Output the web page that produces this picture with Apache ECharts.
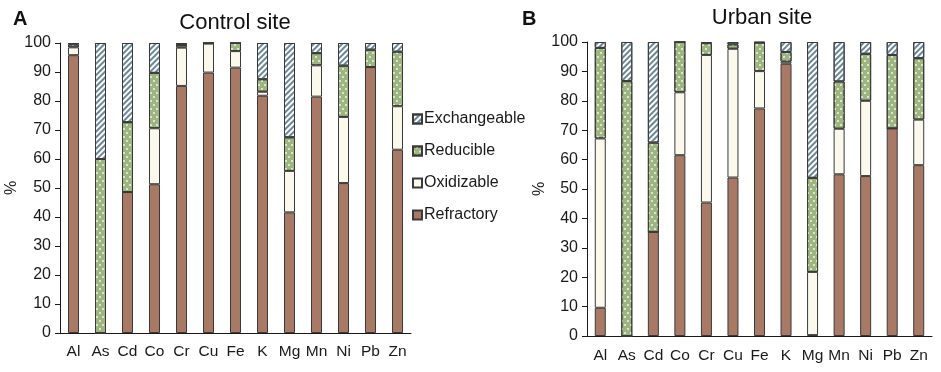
<!DOCTYPE html>
<html>
<head>
<meta charset="utf-8">
<script src="https://cdn.jsdelivr.net/npm/echarts@6/dist/echarts.min.js"></script>
<style>html,body{margin:0;padding:0;background:#fff;}#c{width:941px;height:372px;}</style>
</head>
<body>
<div id="c"></div>
<script>
const categories = ['Al','As','Cd','Co','Cr','Cu','Fe','K','Mg','Mn','Ni','Pb','Zn'];
const yTicks = [0,10,20,30,40,50,60,70,80,90,100];

// Control site (A)
const controlRefractory   = [95.8, 0, 48.6, 51.3, 85.2, 89.8, 91.5, 81.8, 41.6, 81.5, 51.7, 91.7, 63.2];
const controlOxidizable   = [2.7, 0, 0, 19.3, 13.2, 10.0, 5.7, 1.4, 14.3, 10.8, 22.8, 0, 15.0];
const controlReducible    = [1.0, 60.0, 24.1, 19.1, 0.9, 0.2, 2.8, 4.3, 11.6, 4.2, 17.7, 6.0, 18.8];
const controlExchangeable = [0.5, 40.0, 27.3, 10.3, 0.7, 0, 0, 12.5, 32.5, 3.5, 7.8, 2.3, 3.0];

// Urban site (B)
const urbanRefractory   = [9.6, 0, 35.4, 61.5, 45.4, 53.9, 77.4, 92.6, 0.3, 55.0, 54.4, 70.6, 58.1];
const urbanOxidizable   = [57.6, 0, 0, 21.4, 50.2, 43.8, 12.7, 0.7, 21.5, 15.5, 25.6, 0, 15.5];
const urbanReducible    = [30.8, 86.7, 30.4, 17.1, 4.0, 1.5, 9.7, 3.3, 32.0, 16.1, 16.0, 25.0, 20.9];
const urbanExchangeable = [2.0, 13.3, 34.2, 0, 0.4, 0.8, 0.2, 3.4, 46.2, 13.4, 4.0, 4.4, 5.5];

const FONT = '"Liberation Sans", Arial, sans-serif';
const BORDER = '#3a3a3a';

const styles = {
  Refractory: { color: '#a87965', borderColor: BORDER, borderWidth: 1 },
  Oxidizable: { color: '#fbf8ec', borderColor: BORDER, borderWidth: 1 },
  Reducible: {
    color: '#9db57f', borderColor: BORDER, borderWidth: 1,
    decal: { symbol: 'circle', symbolSize: 1, color: 'rgba(255,255,255,0.85)',
             dashArrayX: [[1.6, 3.4], [0, 2.5, 1.6, 0.9]], dashArrayY: [1.6, 1.4] }
  },
  Exchangeable: {
    color: '#ffffff', borderColor: BORDER, borderWidth: 1,
    decal: { symbol: 'rect', symbolSize: 1, color: '#6a8797',
             dashArrayX: [1, 0], dashArrayY: [1.6, 1.4], rotation: -Math.PI / 4 }
  }
};

function mk(name, data, idx) {
  return {
    name: name, type: 'bar', stack: 's' + idx,
    xAxisIndex: idx, yAxisIndex: idx,
    barWidth: 11, data: data,
    itemStyle: styles[name],
    emphasis: { disabled: true }
  };
}

const chart = echarts.init(document.getElementById('c'), null, { renderer: 'canvas' });
chart.setOption({
  animation: false,
  backgroundColor: '#ffffff',
  title: [
    { text: 'Control site', left: 230, top: 7, textAlign: 'center',
      textStyle: { fontSize: 22, fontWeight: 'normal', color: '#111', fontFamily: FONT } },
    { text: 'Urban site', left: 757, top: 2, textAlign: 'center',
      textStyle: { fontSize: 22, fontWeight: 'normal', color: '#111', fontFamily: FONT } },
    { text: 'A', left: 8, top: 4,
      textStyle: { fontSize: 20, fontWeight: 'bold', color: '#111', fontFamily: FONT } },
    { text: 'B', left: 517, top: 4,
      textStyle: { fontSize: 20, fontWeight: 'bold', color: '#111', fontFamily: FONT } }
  ],
  legend: {
    orient: 'vertical', left: 407, top: 106, itemGap: 16,
    itemWidth: 9, itemHeight: 9, icon: 'rect',
    data: ['Exchangeable', 'Reducible', 'Oxidizable', 'Refractory'],
    textStyle: { fontSize: 16, color: '#1a1a1a', fontFamily: FONT, padding: [0, 0, 0, -3] },
    selectedMode: false
  },
  grid: [
    { left: 60, top: 43, width: 351, height: 290 },
    { left: 587, top: 42, width: 345, height: 294 }
  ],
  xAxis: [0, 1].map(i => ({
    type: 'category', gridIndex: i, data: categories,
    axisLine: { lineStyle: { color: '#1a1a1a', width: 1 } },
    axisTick: { show: false },
    axisLabel: { margin: i === 0 ? 11 : 12, interval: 0, color: '#1a1a1a', fontSize: 15.5, fontFamily: FONT }
  })),
  yAxis: [0, 1].map(i => ({
    type: 'value', gridIndex: i, min: 0, max: 100, interval: 10,
    name: '%', nameLocation: 'middle', nameGap: i === 0 ? 40 : 35, nameRotate: 90,
    nameTextStyle: { fontSize: 16, color: '#1a1a1a', fontFamily: FONT },
    axisLine: { show: true, lineStyle: { color: '#1a1a1a', width: 1 } },
    axisTick: { show: true, inside: false, length: 5, lineStyle: { color: '#1a1a1a' } },
    splitLine: { show: false },
    axisLabel: { margin: 9, color: '#1a1a1a', fontSize: 16, fontFamily: FONT,
                 formatter: v => yTicks.includes(v) ? String(v) : '' }
  })),
  series: [
    mk('Refractory', controlRefractory, 0),
    mk('Oxidizable', controlOxidizable, 0),
    mk('Reducible', controlReducible, 0),
    mk('Exchangeable', controlExchangeable, 0),
    mk('Refractory', urbanRefractory, 1),
    mk('Oxidizable', urbanOxidizable, 1),
    mk('Reducible', urbanReducible, 1),
    mk('Exchangeable', urbanExchangeable, 1)
  ]
});
</script>
</body>
</html>
